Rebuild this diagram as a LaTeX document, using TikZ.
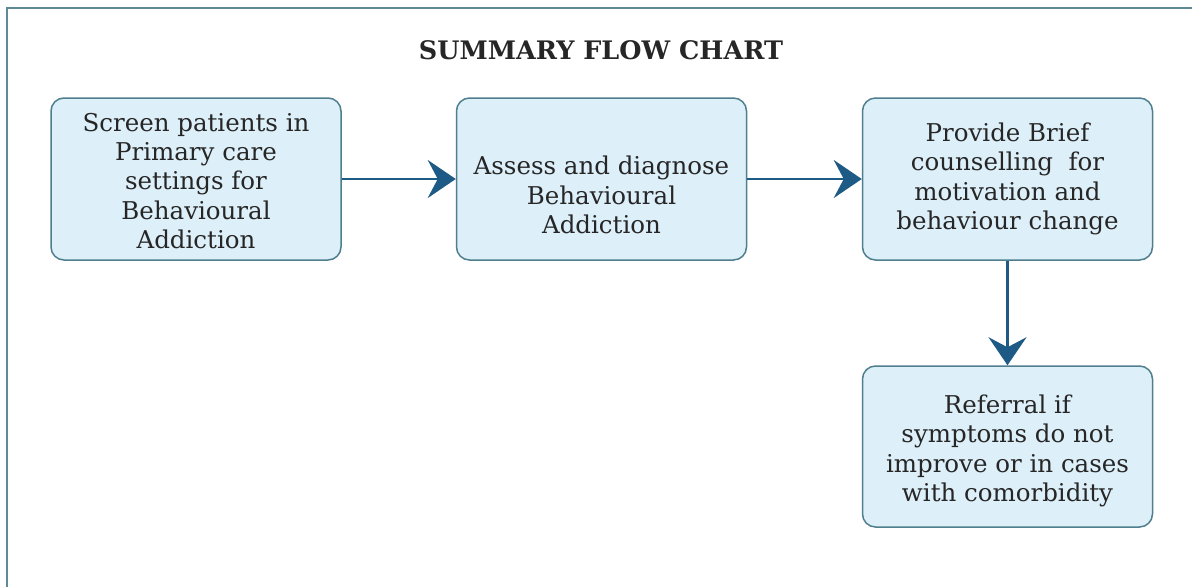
\documentclass[tikz,border=0pt]{standalone}
\usepackage{fontspec}
\setmainfont{DejaVu Serif}
\usetikzlibrary{arrows.meta}
\definecolor{boxfill}{HTML}{DDEFF8}
\definecolor{boxline}{HTML}{4F7F8E}
\definecolor{arrowc}{HTML}{1D5A85}
\definecolor{framec}{HTML}{5E8A96}
\tikzset{
  stepbox/.style={draw=boxline, line width=1.5pt, fill=boxfill, rounded corners=13pt,
    minimum width=290pt, minimum height=162pt, inner sep=0pt},
  steptext/.style={align=center, inner sep=0pt,
    font=\fontsize{24.5}{29.3}\selectfont, text=black!85},
  conn/.style={draw=arrowc, line width=2.4pt,
    -{Stealth[length=28pt, width=38pt, inset=10pt]}}
}
\begin{document}
\begin{tikzpicture}[x=1pt, y=-1pt]
\useasboundingbox (0,0) rectangle (1192,587);
\fill[white] (0,0) rectangle (1192,587);
\draw[framec, line width=1.3pt] (7,587) -- (7,8) -- (1192,8);
\node[font=\bfseries\fontsize{25.5}{30}\selectfont, text=black!85] (title) at (601,50) {SUMMARY FLOW CHART};
\node[stepbox] (b1) at (196,179) {};
\node[steptext] (t1) at (196,181) {Screen patients in\\Primary care\\settings for\\Behavioural\\Addiction};
\node[stepbox] (b2) at (601.5,179) {};
\node[steptext] (t2) at (601.5,195) {Assess and diagnose\\Behavioural\\Addiction};
\node[stepbox] (b3) at (1007.5,179) {};
\node[steptext] (t3) at (1007.5,179) {Provide Brief\\counselling\ \ for\\motivation and\\behaviour change};
\node[stepbox, minimum height=161pt] (b4) at (1007.5,446.5) {};
\node[steptext] (t4) at (1007.5,451) {Referral if\\symptoms do not\\improve or in cases\\with comorbidity};
\draw[conn] (b1.east) -- (b2.west);
\draw[conn] (b2.east) -- (b3.west);
\draw[conn] (b3.south) -- (b4.north);
\end{tikzpicture}
\end{document}
